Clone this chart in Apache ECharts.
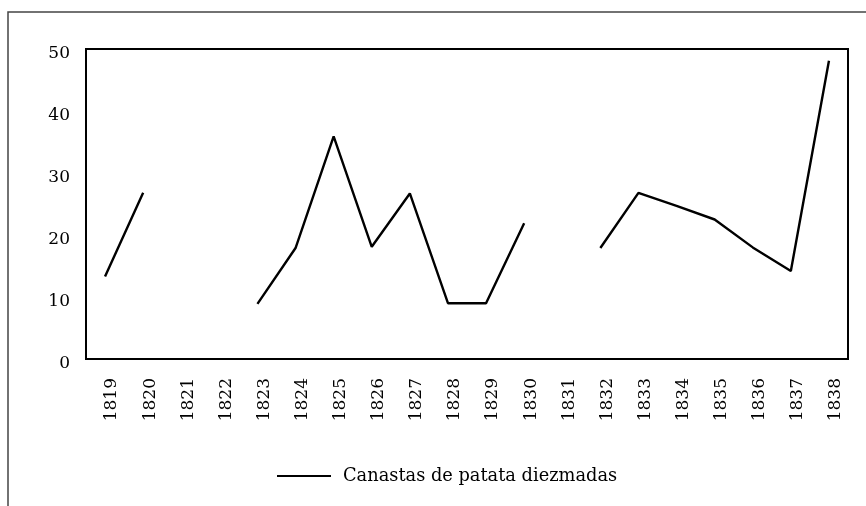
<!DOCTYPE html>
<html>
<head>
    <meta charset="utf-8">
    <script type="text/javascript" src="https://cdn.jsdelivr.net/npm/echarts@6/dist/echarts.min.js"></script>
    <style>
        html, body { margin: 0; padding: 0; background: #fff; }
    </style>
</head>
<body>
    <div id="main" style="width: 866px;height:506px;"></div>
    <script type="text/javascript">
    let years = ['1819','1820','1821','1822','1823','1824','1825','1826','1827','1828',
                 '1829','1830','1831','1832','1833','1834','1835','1836','1837','1838']
    let canastas = [13.3, 26.8, null, null, 8.9, 17.9, 35.9, 18.1, 26.7, 9.0,
                    9.0, 21.9, null, 17.9, 26.8, 24.7, 22.5, 18.0, 14.2, 48.1]
    let seriesName = 'Canastas de patata diezmadas'
    let fontFam = '"DejaVu Serif", "Liberation Serif", serif'

    var myChart = echarts.init(document.getElementById('main'), null, {renderer: 'canvas'});
    let option = {
        animation: false,
        backgroundColor: '#fff',
        graphic: [{
            type: 'rect',
            shape: { x: 8, y: 12, width: 1000, height: 1000 },
            style: { fill: 'none', stroke: '#444', lineWidth: 1.5 },
            silent: true
        }],
        grid: {
            left: 86,
            top: 49,
            right: 18,
            bottom: 147,
            show: true,
            borderColor: '#000',
            borderWidth: 2
        },
        legend: {
            left: 272,
            top: 462,
            icon: 'rect',
            itemWidth: 54,
            itemHeight: 2,
            itemGap: 10,
            textStyle: { fontFamily: fontFam, fontSize: 17.8, color: '#000', padding: [0, 0, 0, 7] },
            data: [seriesName]
        },
        xAxis: {
            type: 'category',
            data: years,
            boundaryGap: true,
            axisLine: { lineStyle: { color: '#000', width: 2 } },
            axisTick: { show: false },
            axisLabel: {
                rotate: 90,
                interval: 0,
                margin: 19,
                color: '#000',
                fontFamily: fontFam,
                fontSize: 17,
                verticalAlign: 'top',
                lineHeight: 14
            }
        },
        yAxis: {
            type: 'value',
            min: 0,
            max: 50,
            interval: 10,
            splitLine: { show: false },
            axisLine: { show: true, lineStyle: { color: '#000', width: 2 } },
            axisTick: { show: false },
            axisLabel: {
                margin: 16,
                color: '#000',
                fontFamily: fontFam,
                fontSize: 17,
                verticalAlign: 'top',
                lineHeight: 10
            }
        },
        series: [{
            name: seriesName,
            type: 'line',
            data: canastas,
            connectNulls: false,
            showSymbol: false,
            symbol: 'none',
            color: '#000',
            lineStyle: { color: '#000', width: 2.4 }
        }]
    };
    myChart.setOption(option);
    </script>
</body>
</html>
